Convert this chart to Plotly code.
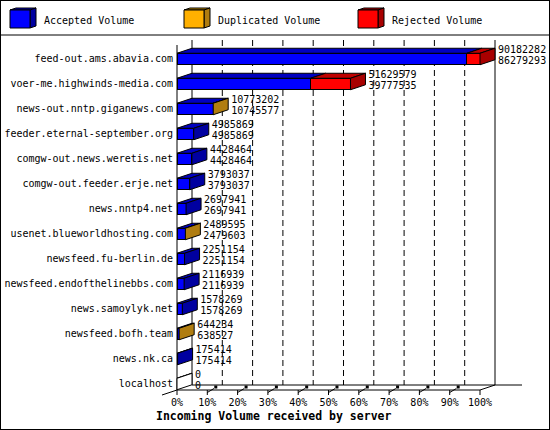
import plotly.graph_objects as go

# incoming volume per peer, largest first
servers = [
    "feed-out.ams.abavia.com",
    "voer-me.highwinds-media.com",
    "news-out.nntp.giganews.com",
    "feeder.eternal-september.org",
    "comgw-out.news.weretis.net",
    "comgw-out.feeder.erje.net",
    "news.nntp4.net",
    "usenet.blueworldhosting.com",
    "newsfeed.fu-berlin.de",
    "newsfeed.endofthelinebbs.com",
    "news.samoylyk.net",
    "newsfeed.bofh.team",
    "news.nk.ca",
    "localhost",
]
total_volume = [90182282, 51629579, 10773202, 4985869, 4428464, 3793037, 2697941,
                2489595, 2251154, 2116939, 1578269, 644234, 175414, 0]
accepted_volume = [86279293, 39777535, 10745577, 4985869, 4428464, 3793037, 2697941,
                   2479603, 2251154, 2116939, 1578269, 638527, 175414, 0]
duplicated_volume = [0, 0, 27625, 0, 0, 0, 0, 9992, 0, 0, 0, 5707, 0, 0]
rejected_volume = [3902989, 11852044, 0, 0, 0, 0, 0, 0, 0, 0, 0, 0, 0, 0]

legend_names = ["Accepted Volume", "Duplicated Volume", "Rejected Volume"]
x_ticks = [0, 10, 20, 30, 40, 50, 60, 70, 80, 90, 100]
x_tick_labels = ["0%", "10%", "20%", "30%", "40%", "50%", "60%", "70%", "80%", "90%", "100%"]
x_title = "Incoming Volume received by server"

W, H = 550, 430
X0, PX_X = 177, 3.03     # pixel of 0 %, pixels per percent
Y0, PX_Y = 59, 25        # pixel of first row, pixels per row
DX, DY = 15 / PX_X, 5 / PX_Y   # 3d depth
HALF = 0.23
FONT = "DejaVu Sans Mono"

FRONT = ["#0000ff", "#ffb000", "#ff0000"]
TOP = ["#0000c0", "#c89000", "#c00000"]
SIDE = ["#0000a0", "#b07d10", "#a80000"]


def px2x(px):
    return (px - X0) / PX_X


def px2y(py):
    return (py - Y0) / PX_Y


def poly(pts):
    return "M " + " L ".join(f"{x},{y}" for x, y in pts) + " Z"


scale = 100.0 / max(total_volume)
segments = [
    [v * scale for v in accepted_volume],
    [v * scale for v in duplicated_volume],
    [v * scale for v in rejected_volume],
]
rows = list(range(len(servers)))
floor_front = px2y(390)
floor_back = floor_front - DY
top_y = px2y(40)

fig = go.Figure()

# front faces
for j, name in enumerate(legend_names):
    fig.add_trace(go.Bar(
        x=segments[j], y=rows, orientation="h", width=2 * HALF,
        marker={"color": FRONT[j], "line": {"color": "black", "width": 1}},
        name=name, showlegend=False, hoverinfo="skip",
    ))

# top faces, one trace per colour
for j in range(3):
    xs, ys = [], []
    for i in rows:
        start = sum(segments[k][i] for k in range(j))
        width = segments[j][i]
        if width <= 0 and not (j == 0 and total_volume[i] == 0):
            continue
        x1 = start + width
        yt = i - HALF
        xs += [start, x1, x1 + DX, start + DX, start, None]
        ys += [yt, yt, yt - DY, yt - DY, yt, None]
    fig.add_trace(go.Scatter(x=xs, y=ys, mode="lines", fill="toself", fillcolor=TOP[j],
                             line={"color": "black", "width": 1}, showlegend=False,
                             hoverinfo="skip"))

# end caps, coloured by the last non-empty segment
caps = {}
for i in rows:
    end = total_volume[i] * scale
    last = None
    for j in range(3):
        if segments[j][i] > 0:
            last = j
    color = SIDE[last] if last is not None else "white"
    xs, ys = caps.setdefault(color, ([], []))
    xs += [end, end + DX, end + DX, end, end, None]
    ys += [i - HALF, i - HALF - DY, i + HALF - DY, i + HALF, i - HALF, None]
for color, (xs, ys) in caps.items():
    fig.add_trace(go.Scatter(x=xs, y=ys, mode="lines", fill="toself", fillcolor=color,
                             line={"color": "black", "width": 1}, showlegend=False,
                             hoverinfo="skip"))

# value labels: total above, accepted below
lab_x = [t * scale + DX + 3 / PX_X for t in total_volume]
fig.add_trace(go.Scatter(
    x=lab_x + lab_x, y=[i - 0.36 for i in rows] + [i + 0.08 for i in rows],
    mode="text", text=[str(v) for v in total_volume] + [str(v) for v in accepted_volume],
    textposition="middle right", textfont={"family": FONT, "size": 10, "color": "black"},
    cliponaxis=False, showlegend=False, hoverinfo="skip",
))

# category labels
fig.add_trace(go.Scatter(
    x=[px2x(173)] * len(servers), y=rows, mode="text", text=servers,
    textposition="middle left", textfont={"family": FONT, "size": 10, "color": "black"},
    cliponaxis=False, showlegend=False, hoverinfo="skip",
))

# x tick labels and floor tick marks
fig.add_trace(go.Scatter(
    x=x_ticks, y=[px2y(403)] * len(x_ticks), mode="text", text=x_tick_labels,
    textposition="middle center", textfont={"family": FONT, "size": 10, "color": "black"},
    cliponaxis=False, showlegend=False, hoverinfo="skip",
))
fig.add_trace(go.Scatter(
    x=[t + 2.8 for t in x_ticks[1:-1]], y=[floor_front - 0.12] * (len(x_ticks) - 2),
    mode="markers", marker={"symbol": "square", "size": 3, "color": "black"},
    showlegend=False, hoverinfo="skip",
))

fig.add_trace(go.Scatter(
    x=[px2x(156)], y=[px2y(417)], mode="text", text=[x_title],
    textposition="middle right",
    textfont={"family": FONT, "size": 11.5, "color": "black", "weight": "bold"},
    cliponaxis=False, showlegend=False, hoverinfo="skip",
))

shapes = []
line = {"color": "black", "width": 1}
dashed = {"color": "black", "width": 1, "dash": "6px,4px"}
for t in x_ticks[1:-1]:
    shapes.append(dict(type="line", x0=t + DX, x1=t + DX, y0=top_y, y1=floor_back,
                       line=dashed, layer="below"))
for t in x_ticks:
    shapes.append(dict(type="line", x0=t, x1=t, y0=floor_front, y1=floor_front + 0.2, line=line))
for t in x_ticks[1:-1]:
    shapes.append(dict(type="line", x0=t, x1=t + 2.2, y0=floor_front + 0.1, y1=floor_front - 0.06,
                       line=line))
# walls and floor
shapes += [
    dict(type="line", x0=DX, x1=DX, y0=top_y, y1=floor_back, line=line, layer="below"),
    dict(type="line", x0=100 + DX, x1=100 + DX, y0=top_y, y1=floor_back, line=line, layer="below"),
    dict(type="line", x0=0, x1=0, y0=px2y(45), y1=floor_front, line=line, layer="below"),
    dict(type="line", x0=DX, x1=px2x(522), y0=floor_back, y1=floor_back, line=line, layer="below"),
    dict(type="line", x0=0, x1=100, y0=floor_front, y1=floor_front, line=line, layer="below"),
    dict(type="line", x0=100, x1=100 + DX, y0=floor_front, y1=floor_back, line=line, layer="below"),
    dict(type="line", x0=0, x1=-DX, y0=floor_front, y1=floor_front + DY, line=line, layer="below"),
]
# legend strip
shapes.append(dict(type="line", x0=px2x(0), x1=px2x(W), y0=px2y(35), y1=px2y(35), line=line))
for j, name in enumerate(legend_names):
    lx = 10 + 174 * j
    front = [(lx, 10), (lx + 20, 10), (lx + 20, 28), (lx, 28)]
    top = [(lx, 10), (lx + 6, 8), (lx + 26, 8), (lx + 20, 10)]
    side = [(lx + 20, 10), (lx + 26, 8), (lx + 26, 26), (lx + 20, 28)]
    for pts, col in ((top, TOP[j]), (side, SIDE[j]), (front, FRONT[j])):
        shapes.append(dict(type="path", path=poly([(px2x(a), px2y(b)) for a, b in pts]),
                           fillcolor=col, line=line))
    fig.add_annotation(x=px2x(lx + 32), y=px2y(20), text=name, showarrow=False,
                       xanchor="left", yanchor="middle",
                       font={"family": FONT, "size": 10, "color": "black"})
# outer border
shapes.append(dict(type="rect", xref="paper", yref="paper", x0=0, x1=1, y0=0, y1=1,
                   line={"color": "black", "width": 2}))

fig.update_layout(
    width=W, height=H,
    margin={"l": 0, "r": 0, "t": 0, "b": 0},
    barmode="stack",
    paper_bgcolor="white", plot_bgcolor="white",
    xaxis={"range": [px2x(0), px2x(W)], "visible": False, "fixedrange": True},
    yaxis={"range": [px2y(H), px2y(0)], "visible": False, "fixedrange": True},
    shapes=shapes,
    showlegend=False,
)

fig.write_html("out.html", config={"displayModeBar": False},
               post_script="document.body.style.margin = '0';")
